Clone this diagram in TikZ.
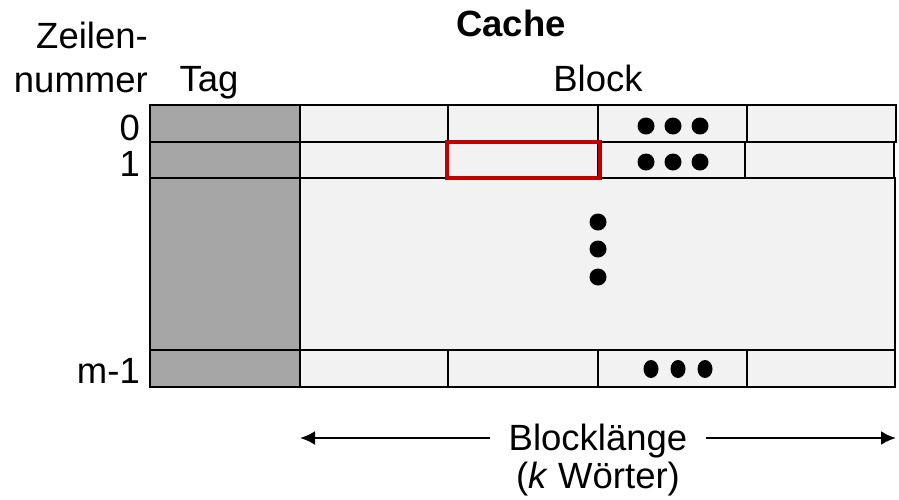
\documentclass[tikz,border=0pt]{standalone}
\usepackage{fontspec}
\setmainfont{Liberation Sans}
\usepackage{tikz}
\usetikzlibrary{arrows.meta}
\usetikzlibrary{positioning,shapes}
\definecolor{zellgrau}{HTML}{F2F2F2}
\definecolor{taggrau}{HTML}{A6A6A6}
\definecolor{markrot}{HTML}{C00000}

\begin{document}
\begin{tikzpicture}[x=1pt, y=-1pt, font=\fontsize{36.5}{40}\selectfont,
    cell/.style={draw, fill=zellgrau, line width=2.2pt},
    tagcell/.style={draw, fill=taggrau, line width=2.2pt},
    pkt/.style={fill=black, circle, inner sep=0pt, minimum size=17pt},
    txt/.style={inner sep=0pt, anchor=base}]
            \useasboundingbox (0,0) rectangle (899,499);

            % tag column
            \draw[tagcell] (150,105) rectangle (300,142);
            \draw[tagcell] (150,142) rectangle (300,178);
            \draw[tagcell] (150,178) rectangle (300,350);
            \draw[tagcell] (150,350) rectangle (300,387);

            % block cells
            \draw[cell] (300,105) rectangle (448,142);
            \draw[cell] (448,105) rectangle (598,142);
            \draw[cell] (598,105) rectangle (747,142);
            \draw[cell] (747,105) rectangle (896,142);

            \draw[cell] (300,142) rectangle (447,178);
            \draw[cell] (447,142) rectangle (598,178);
            \draw[cell] (598,142) rectangle (745,178);
            \draw[cell] (745,142) rectangle (894,178);

            \draw[cell] (300,178) rectangle (895,350);

            \draw[cell] (300,350) rectangle (448,387);
            \draw[cell] (448,350) rectangle (598,387);
            \draw[cell] (598,350) rectangle (747,387);
            \draw[cell] (747,350) rectangle (895,387);

            \draw[markrot, line width=3.6pt] (447,142) rectangle (600,178);

            % dots
            \draw (646,126) node[pkt] (p01) {};
            \draw (673,126) node[pkt] (p02) {};
            \draw (700,126) node[pkt] (p03) {};
            \draw (646,162) node[pkt] (p11) {};
            \draw (673,162) node[pkt] (p12) {};
            \draw (700,162) node[pkt] (p13) {};
            \draw (651,369) node[pkt, ellipse, minimum width=15pt, minimum height=18pt] (pm1) {};
            \draw (678,369) node[pkt, ellipse, minimum width=15pt, minimum height=18pt] (pm2) {};
            \draw (705,369) node[pkt, ellipse, minimum width=15pt, minimum height=18pt] (pm3) {};
            \draw (598,222) node[pkt] (v1) {};
            \draw (598,249) node[pkt] (v2) {};
            \draw (598,277) node[pkt] (v3) {};

            % labels
            \draw (511,36) node[txt, font=\fontsize{36.5}{40}\bfseries] (cache) {Cache};
            \draw (148,48) node[txt, anchor=base east] (zeilen) {Zeilen-};
            \draw (148,92) node[txt, anchor=base east] (nummer) {nummer};
            \draw (209,91) node[txt] (tag) {Tag};
            \draw (598,91) node[txt] (block) {Block};
            \draw (140,140) node[txt, anchor=base east] (z0) {0};
            \draw (140,176) node[txt, anchor=base east] (z1) {1};
            \draw (140,383) node[txt, anchor=base east] (zm) {m-1};

            \draw (598,450) node[txt] (laenge) {Blocklänge};
            \draw (598,488) node[txt] (woerter) {(\textit{k} Wörter)};

            \coordinate (links) at (300,438);
            \coordinate (rechts) at (896,438);
            \draw[line width=2.5pt, -{Latex[length=15pt, width=14pt]}] ([xshift=-19pt]laenge.west |- links) -- (links);
            \draw[line width=2.5pt, -{Latex[length=15pt, width=14pt]}] ([xshift=19pt]laenge.east |- rechts) -- (rechts);

            \end{tikzpicture}
\end{document}
